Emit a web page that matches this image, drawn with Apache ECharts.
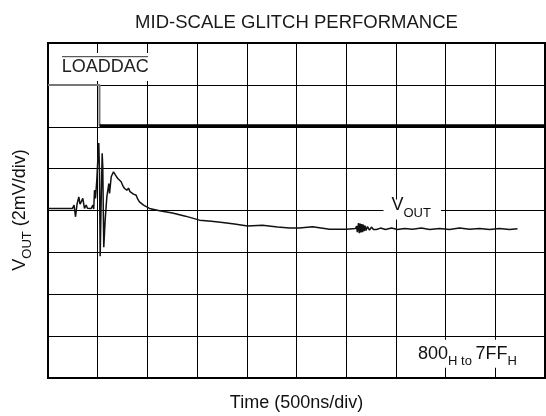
<!DOCTYPE html>
<html>
<head>
<meta charset="utf-8">
<script src="https://cdn.jsdelivr.net/npm/echarts@6/dist/echarts.min.js"></script>
<style>
html,body{margin:0;padding:0;background:#fff;}
#c{width:546px;height:416px;}
</style>
</head>
<body>
<div id="c"></div>
<script>
// Time axis: 500 ns/div, 10 divisions; Voltage axis: 2 mV/div, 8 divisions
const timeTicksNs = [0, 500, 1000, 1500, 2000, 2500, 3000, 3500, 4000, 4500, 5000];
const voltTicksMv = [0, 2, 4, 6, 8, 10, 12, 14, 16];

// LOADDAC trace (ns, screen level in mV-equivalent units)
const loaddacTime = [0, 518, 518, 5000];
const loaddacLevel = [14, 14, 12.05, 12.05];

// VOUT trace
const voutTime = [0, 246, 262, 277, 292, 310, 322, 334, 350, 367, 384, 397, 410, 435, 451, 460, 468, 478, 491, 501,
  511, 518, 525, 535, 545, 551, 561, 575, 592, 612, 619, 636, 659, 679, 702, 719, 736, 755, 770, 793,
  810, 825, 840, 860, 887, 903, 920, 961, 1021, 1122, 1252, 1383, 1524, 1645, 1756, 1876, 2007, 2158, 2309, 2430,
  2530, 2661, 2832, 3003, 3094, 3104, 3112, 3124, 3132, 3140, 3148, 3156, 3164, 3172, 3180, 3189, 3199, 3214, 3234, 3254,
  3274, 3290, 3305, 3345, 3395, 3456, 3516, 3586, 3667, 3757, 3838, 3938, 4039, 4140, 4240, 4341, 4442, 4542, 4643, 4723];
const voutMv = [8.10, 8.10, 8.26, 7.70, 8.30, 8.65, 8.30, 8.41, 8.58, 8.10, 8.26, 8.11, 8.18, 8.10, 8.26, 8.07, 8.97, 8.58, 9.45, 10.41,
  11.22, 9.78, 5.82, 8.50, 10.73, 10.09, 6.25, 7.54, 8.65, 9.29, 8.82, 9.61, 9.85, 9.69, 9.53, 9.45, 9.37, 9.16, 9.05, 8.97,
  9.07, 8.90, 8.97, 8.78, 8.73, 8.54, 8.41, 8.26, 8.10, 7.99, 7.88, 7.73, 7.54, 7.49, 7.43, 7.35, 7.26, 7.29, 7.21, 7.17,
  7.16, 7.22, 7.10, 7.10, 7.14, 7.26, 6.97, 7.40, 6.92, 7.38, 6.95, 7.35, 6.97, 7.33, 7.02, 7.28, 7.04, 7.23, 7.06, 7.21,
  7.09, 7.17, 7.09, 7.16, 7.09, 7.16, 7.09, 7.14, 7.11, 7.16, 7.09, 7.14, 7.09, 7.16, 7.10, 7.14, 7.09, 7.14, 7.09, 7.13];

const titleText = 'MID-SCALE GLITCH PERFORMANCE';
const xTitle = 'Time (500ns/div)';

const FF = '"Liberation Sans", Arial, Helvetica, sans-serif';
const TXT = '#111';

function pairs(xs, ys) { return xs.map((x, i) => [x, ys[i]]); }
const loadPts = pairs(loaddacTime, loaddacLevel);

function rich() {
  return {
    n: {fontSize: 18, fontFamily: FF, fill: TXT, color: TXT, lineHeight: 20, verticalAlign: 'bottom', padding: [0, 0, 5, 0]},
    s: {fontSize: 13, fontFamily: FF, fill: TXT, color: TXT, lineHeight: 15, verticalAlign: 'bottom'}
  };
}

const chart = echarts.init(document.getElementById('c'), null, {renderer: 'canvas'});
chart.setOption({
  animation: false,
  backgroundColor: '#fff',
  grid: {left: 48, top: 43, width: 497, height: 335, show: true, borderColor: '#000', borderWidth: 2, backgroundColor: 'transparent'},
  xAxis: {
    type: 'value', min: timeTicksNs[0], max: timeTicksNs[timeTicksNs.length - 1], interval: 500,
    axisLabel: {show: false}, axisTick: {show: false}, axisLine: {show: false},
    splitLine: {show: true, lineStyle: {color: '#000', width: 1}}
  },
  yAxis: {
    type: 'value', min: voltTicksMv[0], max: voltTicksMv[voltTicksMv.length - 1], interval: 2,
    axisLabel: {show: false}, axisTick: {show: false}, axisLine: {show: false},
    splitLine: {show: true, lineStyle: {color: '#000', width: 1}}
  },
  series: [
    {type: 'line', data: loadPts.slice(0, 3), symbol: 'none', lineStyle: {color: '#777', width: 2}, z: 3},
    {type: 'line', data: loadPts.slice(2), symbol: 'none', lineStyle: {color: '#000', width: 3}, z: 4},
    {type: 'line', data: pairs(voutTime, voutMv), symbol: 'none', lineStyle: {color: '#111', width: 1.5}, z: 5}
  ],
  graphic: [
    {type: 'text', z: 100, style: {text: titleText, x: 296.5, y: 22.6, align: 'center', verticalAlign: 'middle', textAlign: 'center', textVerticalAlign: 'middle', fontSize: 18.5, fontFamily: FF, fill: '#1a1a1a'}},
    {type: 'text', z: 100, style: {text: xTitle, x: 296.5, y: 403, align: 'center', verticalAlign: 'middle', textAlign: 'center', textVerticalAlign: 'middle', fontSize: 18, fontFamily: FF, fill: TXT}},
    {type: 'text', z: 100, rotation: Math.PI / 2, x: 24, y: 210, style: {text: '{n|V}{s|OUT}{n| (2mV/div)}', x: 0, y: 0, align: 'center', verticalAlign: 'middle', textAlign: 'center', textVerticalAlign: 'middle', rich: rich()}},
    {type: 'text', z: 100, style: {text: 'LOADDAC', x: 57.7, y: 67, align: 'left', verticalAlign: 'middle', textAlign: 'left', textVerticalAlign: 'middle', fontSize: 18, fontFamily: FF, fill: '#222', lineHeight: 16, backgroundColor: '#fff', padding: [6, 4, 6, 4]}},
    {type: 'line', z: 101, shape: {x1: 62, y1: 56.7, x2: 148, y2: 56.7}, style: {stroke: '#333', lineWidth: 1}},
    {type: 'text', z: 100, style: {text: '{n|V}{s|OUT}', x: 383.5, y: 209.5, align: 'left', verticalAlign: 'middle', textAlign: 'left', textVerticalAlign: 'middle', rich: rich(), backgroundColor: '#fff', padding: [0, 10, 0, 8]}},
    {type: 'text', z: 100, style: {text: '{n|800}{s|H to }{n|7FF}{s|H}', x: 405, y: 353.8, align: 'left', verticalAlign: 'middle', textAlign: 'left', textVerticalAlign: 'middle', rich: rich(), backgroundColor: '#fff', padding: [8, 14, 0, 13]}}
  ]
});
</script>
</body>
</html>
